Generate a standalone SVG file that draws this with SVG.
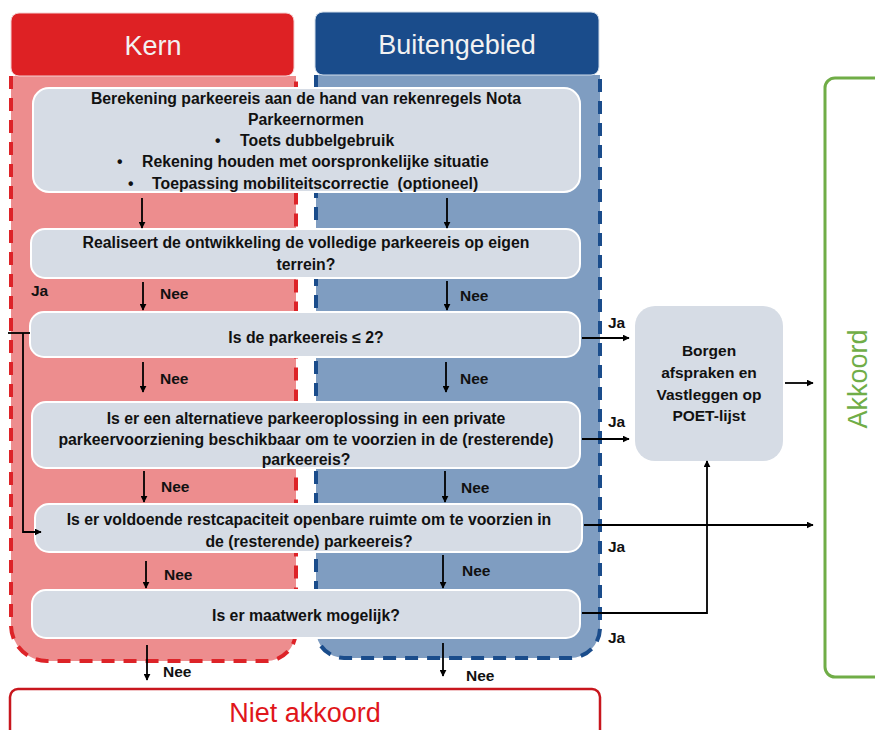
<svg xmlns="http://www.w3.org/2000/svg" width="875" height="730" viewBox="0 0 875 730">
<defs>
<marker id="ah" viewBox="0 0 10 10" refX="9" refY="5" markerWidth="7" markerHeight="7" markerUnits="userSpaceOnUse" orient="auto">
<path d="M0,0 L10,5 L0,10 z" fill="#000"/>
</marker>
<style>
.box{fill:#D6DCE5;stroke:#FFFFFF;stroke-width:2}
.t{font-family:"Liberation Sans",Arial,sans-serif;font-weight:bold;font-size:15.8px;fill:#111}
.b{font-family:"Liberation Sans",Arial,sans-serif;font-weight:bold;font-size:15.5px;fill:#111;text-anchor:middle}
.c{text-anchor:middle}
.lbl{font-family:"Liberation Sans",Arial,sans-serif;font-weight:bold;font-size:15.5px;fill:#111}
.con{fill:none;stroke:#000;stroke-width:1.8}
.arr{fill:none;stroke:#000;stroke-width:1.8;marker-end:url(#ah)}
.hdr{font-family:"Liberation Sans",Arial,sans-serif;font-size:27px;fill:#F2F2F2;text-anchor:middle}
</style>
</defs>
<rect width="875" height="730" fill="#FFFFFF"/>

<g id="lane-kern">
<path d="M11,76 V625 A36,36 0 0 0 47,661 H266 A30,30 0 0 0 296,631 V76" fill="#ED8D8E" stroke="#DD2328" stroke-width="4" stroke-dasharray="13,9"/>
</g>
<g id="lane-buiten">
<path d="M316,75 V630 A28,28 0 0 0 344,658 H570 A30,30 0 0 0 600,628 V75" fill="#7F9DC1" stroke="#1A4C8B" stroke-width="4" stroke-dasharray="13,9"/>
</g>
<g id="hdr-kern">
<rect x="11" y="13" width="283" height="63" rx="8" fill="#DE2124" stroke="#F4D0D0" stroke-width="1"/>
<text class="hdr" x="153" y="55">Kern</text>
</g>
<g id="hdr-buiten">
<rect x="315" y="12" width="284" height="63" rx="8" fill="#1A4C8B" stroke="#D0DCEA" stroke-width="1"/>
<text class="hdr" x="457" y="54">Buitengebied</text>
</g>

<g id="box1">
<rect class="box" x="33" y="88" width="547" height="104" rx="16"/>
<text class="t c" x="306" y="104">Berekening parkeereis aan de hand van rekenregels Nota</text>
<text class="t c" x="306" y="125">Parkeernormen</text>
<text class="t" x="215" y="146">•</text>
<text class="t" x="240" y="146">Toets dubbelgebruik</text>
<text class="t" x="117" y="167">•</text>
<text class="t" x="142" y="167">Rekening houden met oorspronkelijke situatie</text>
<text class="t" x="128" y="189">•</text>
<text class="t" x="152" y="189" xml:space="preserve">Toepassing mobiliteitscorrectie  (optioneel)</text>
</g>
<g id="box2">
<rect class="box" x="31" y="229" width="549" height="49" rx="14"/>
<text class="t c" x="306" y="248">Realiseert de ontwikkeling de volledige parkeereis op eigen</text>
<text class="t c" x="306" y="270">terrein?</text>
</g>
<g id="box3">
<rect class="box" x="30" y="312" width="550" height="45" rx="14"/>
<text class="t c" x="306" y="343">Is de parkeereis ≤ 2?</text>
</g>
<g id="box4">
<rect class="box" x="32" y="402" width="548" height="66" rx="14"/>
<text class="t c" x="306" y="424">Is er een alternatieve parkeeroplossing in een private</text>
<text class="t c" x="306" y="445">parkeervoorziening beschikbaar om te voorzien in de (resterende)</text>
<text class="t c" x="306" y="465">parkeereis?</text>
</g>
<g id="box5">
<rect class="box" x="35" y="504" width="547" height="48" rx="14"/>
<text class="t c" x="309" y="525">Is er voldoende restcapaciteit openbare ruimte om te voorzien in</text>
<text class="t c" x="309" y="547">de (resterende) parkeereis?</text>
</g>
<g id="box6">
<rect class="box" x="32" y="590" width="548" height="48" rx="14"/>
<text class="t c" x="306" y="621">Is er maatwerk mogelijk?</text>
</g>
<g id="borgen">
<rect x="635" y="306" width="148" height="155" rx="20" fill="#D6DCE5"/>
<text class="b" x="709" y="356">Borgen</text>
<text class="b" x="709" y="378">afspraken en</text>
<text class="b" x="709" y="400">Vastleggen op</text>
<text class="b" x="709" y="421">POET-lijst</text>
</g>
<g id="akkoord">
<rect x="825" y="78" width="70" height="599" rx="10" fill="none" stroke="#70AD47" stroke-width="3"/>
<text transform="translate(867,379) rotate(-90)" x="0" y="0" text-anchor="middle" font-family="Liberation Sans, Arial, sans-serif" font-size="27" fill="#70AD47">Akkoord</text>
</g>
<g id="niet-akkoord">
<rect x="10" y="689" width="590" height="60" rx="8" fill="#FFFFFF" stroke="#C8161D" stroke-width="2.5"/>
<text x="305" y="722" text-anchor="middle" font-family="Liberation Sans, Arial, sans-serif" font-size="27" fill="#E0161B">Niet akkoord</text>
</g>

<g id="connectors">
<line class="arr" x1="142" y1="198" x2="142" y2="228"/>
<line class="arr" x1="447" y1="198" x2="447" y2="228"/>
<line class="arr" x1="143" y1="282" x2="143" y2="310"/>
<line class="arr" x1="447" y1="281" x2="447" y2="310"/>
<line class="arr" x1="143" y1="362" x2="143" y2="392"/>
<line class="arr" x1="446" y1="362" x2="446" y2="392"/>
<line class="arr" x1="144" y1="471" x2="144" y2="502"/>
<line class="arr" x1="445" y1="471" x2="445" y2="502"/>
<line class="arr" x1="146" y1="561" x2="146" y2="588"/>
<line class="arr" x1="443" y1="555" x2="443" y2="588"/>
<line class="arr" x1="147" y1="645" x2="147" y2="680"/>
<line class="arr" x1="443" y1="643" x2="443" y2="676"/>
<path class="con" d="M8,333 H30"/>
<path class="arr" d="M23,333 V532 H41"/>
<line class="arr" x1="582" y1="338" x2="629" y2="338"/>
<line class="arr" x1="582" y1="439" x2="629" y2="439"/>
<line class="arr" x1="584" y1="525" x2="813" y2="525"/>
<path class="arr" d="M582,613 H707 V461"/>
<line class="arr" x1="785" y1="383" x2="813" y2="383"/>
<text class="lbl" x="160" y="299">Nee</text>
<text class="lbl" x="460" y="301">Nee</text>
<text class="lbl" x="160" y="384">Nee</text>
<text class="lbl" x="460" y="384">Nee</text>
<text class="lbl" x="161" y="492">Nee</text>
<text class="lbl" x="461" y="493">Nee</text>
<text class="lbl" x="164" y="580">Nee</text>
<text class="lbl" x="462" y="576">Nee</text>
<text class="lbl" x="163" y="677">Nee</text>
<text class="lbl" x="466" y="681">Nee</text>
<text class="lbl" x="31" y="296">Ja</text>
<text class="lbl" x="608" y="328">Ja</text>
<text class="lbl" x="608" y="427">Ja</text>
<text class="lbl" x="608" y="552">Ja</text>
<text class="lbl" x="608" y="643">Ja</text>
</g>
</svg>
